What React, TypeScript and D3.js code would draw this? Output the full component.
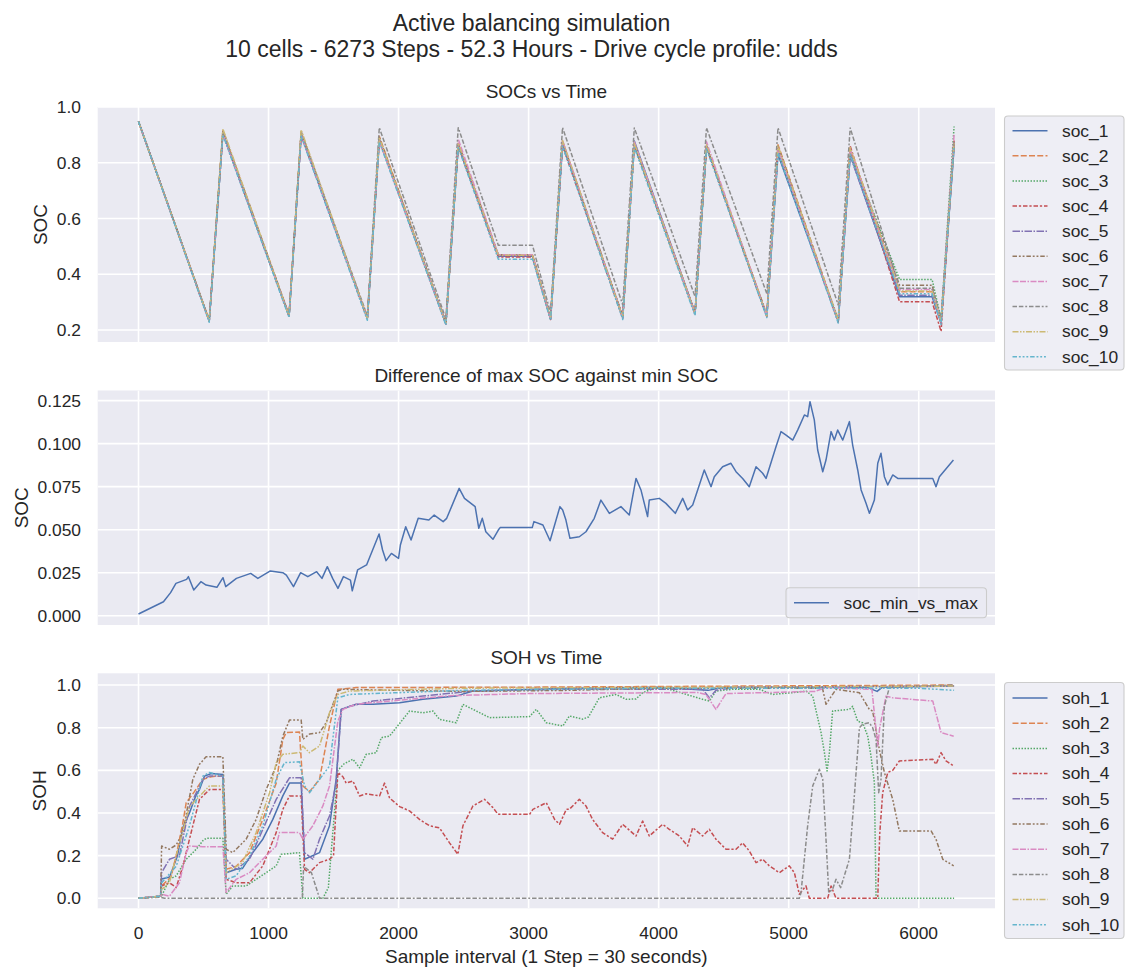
import React from "react";
import * as d3 from "d3";

type P = [number, number];

// ---------- styling palette (seaborn deep) ----------
const COLORS = ["#4C72B0", "#DD8452", "#55A868", "#C44E52", "#8172B3", "#937860", "#DA8BC3", "#8C8C8C", "#CCB974", "#64B5CD"];
const DASHES: number[][] = [
  [], [4, 1.5], [1, 1], [3, 1.25, 1.5, 1.25], [5, 1, 1, 1],
  [3, 1.25, 1.25, 1.25, 1.25, 1.25], [4, 1, 4, 1, 1, 1], [3, 1.25, 3, 1.25, 1.25, 1.25],
  [4, 1, 1, 1, 1, 1], [3, 1.25, 1.25, 1.25, 1.25, 1.25, 1.25, 1.25],
];

// ---------- text / ticks ----------
const SUPTITLE_1 = "Active balancing simulation";
const SUPTITLE_2 = "10 cells - 6273 Steps - 52.3 Hours - Drive cycle profile: udds";
const TITLES = ["SOCs vs Time", "Difference of max SOC against min SOC", "SOH vs Time"];
const YLABELS = ["SOC", "SOC", "SOH"];
const XLABEL = "Sample interval (1 Step = 30 seconds)";
const SOC_LABELS = ["soc_1", "soc_2", "soc_3", "soc_4", "soc_5", "soc_6", "soc_7", "soc_8", "soc_9", "soc_10"];
const SOH_LABELS = ["soh_1", "soh_2", "soh_3", "soh_4", "soh_5", "soh_6", "soh_7", "soh_8", "soh_9", "soh_10"];
const DIFF_LABEL = "soc_min_vs_max";

const X_TICKS = [0, 1000, 2000, 3000, 4000, 5000, 6000];
const SOC_TICKS = [0.2, 0.4, 0.6, 0.8, 1.0];
const DIFF_TICKS = [0, 0.025, 0.05, 0.075, 0.1, 0.125];
const SOH_TICKS = [0, 0.2, 0.4, 0.6, 0.8, 1.0];

const X_DOMAIN = [-313.65, 6586.65];
const SOC_DOMAIN = [0.157, 1.0];
const DIFF_DOMAIN = [-0.0054, 0.1309];
const SOH_DOMAIN = [-0.047, 1.055];

// ---------- SOC data (values at shared breakpoint steps) ----------
const SOC_STEPS = [0, 544, 649, 1158, 1251, 1760, 1852, 2364, 2459, 2767, 3030, 3169, 3261, 3724, 3813, 4280, 4368, 4832, 4918, 5381, 5473, 5853, 6103, 6172, 6272];
const SOC_1 = [0.948, 0.232, 0.905, 0.25, 0.9, 0.243, 0.885, 0.222, 0.865, 0.465, 0.465, 0.24, 0.87, 0.245, 0.878, 0.262, 0.86, 0.25, 0.83, 0.232, 0.83, 0.319, 0.319, 0.225, 0.855];
const SOC_2 = [0.948, 0.235, 0.915, 0.255, 0.91, 0.245, 0.895, 0.225, 0.87, 0.47, 0.47, 0.242, 0.875, 0.248, 0.87, 0.262, 0.86, 0.255, 0.865, 0.235, 0.85, 0.337, 0.337, 0.228, 0.87];
const SOC_3 = [0.948, 0.233, 0.905, 0.25, 0.905, 0.24, 0.88, 0.223, 0.86, 0.468, 0.468, 0.24, 0.865, 0.245, 0.86, 0.258, 0.855, 0.25, 0.84, 0.24, 0.835, 0.381, 0.381, 0.24, 0.93];
const SOC_4 = [0.948, 0.232, 0.905, 0.25, 0.9, 0.24, 0.88, 0.222, 0.86, 0.462, 0.462, 0.238, 0.86, 0.242, 0.865, 0.258, 0.855, 0.248, 0.855, 0.228, 0.86, 0.301, 0.301, 0.195, 0.88];
const SOC_5 = [0.948, 0.232, 0.905, 0.25, 0.9, 0.242, 0.885, 0.223, 0.865, 0.466, 0.466, 0.24, 0.87, 0.245, 0.87, 0.26, 0.86, 0.25, 0.85, 0.23, 0.825, 0.325, 0.325, 0.225, 0.86];
const SOC_6 = [0.948, 0.234, 0.91, 0.252, 0.905, 0.243, 0.89, 0.225, 0.87, 0.47, 0.47, 0.243, 0.875, 0.25, 0.865, 0.263, 0.86, 0.255, 0.86, 0.232, 0.845, 0.361, 0.361, 0.23, 0.88];
const SOC_7 = [0.948, 0.232, 0.905, 0.25, 0.9, 0.242, 0.88, 0.222, 0.885, 0.47, 0.47, 0.24, 0.88, 0.245, 0.875, 0.26, 0.875, 0.25, 0.85, 0.233, 0.85, 0.345, 0.345, 0.23, 0.9];
const SOC_8 = [0.948, 0.234, 0.915, 0.252, 0.912, 0.25, 0.926, 0.24, 0.926, 0.504, 0.504, 0.26, 0.926, 0.29, 0.925, 0.32, 0.925, 0.33, 0.925, 0.29, 0.925, 0.35, 0.35, 0.24, 0.88];
const SOC_9 = [0.948, 0.233, 0.922, 0.25, 0.918, 0.242, 0.89, 0.223, 0.87, 0.468, 0.468, 0.242, 0.88, 0.245, 0.87, 0.26, 0.865, 0.25, 0.86, 0.235, 0.855, 0.34, 0.34, 0.23, 0.87];
const SOC_10 = [0.948, 0.228, 0.9, 0.245, 0.895, 0.235, 0.875, 0.218, 0.855, 0.454, 0.454, 0.235, 0.86, 0.238, 0.855, 0.252, 0.85, 0.245, 0.835, 0.225, 0.83, 0.33, 0.33, 0.22, 0.86];
const SOC_VALUES = [SOC_1, SOC_2, SOC_3, SOC_4, SOC_5, SOC_6, SOC_7, SOC_8, SOC_9, SOC_10];

// ---------- max-min SOC difference ----------
const DIFF: P[] = [[0, 0.001], [192, 0.0081], [247, 0.0134], [288, 0.0188], [370, 0.0211], [384, 0.0227], [425, 0.0149], [480, 0.0198], [520, 0.0178], [603, 0.0165], [650, 0.0221], [671, 0.0169], [753, 0.0217], [863, 0.0246], [918, 0.0217], [1014, 0.026], [1110, 0.025], [1137, 0.0236], [1192, 0.0169], [1247, 0.025], [1302, 0.0227], [1370, 0.0256], [1411, 0.0217], [1452, 0.0285], [1493, 0.0217], [1534, 0.0159], [1576, 0.0227], [1630, 0.0207], [1644, 0.0145], [1685, 0.0266], [1754, 0.0295], [1850, 0.0475], [1877, 0.0382], [1904, 0.032], [1945, 0.0362], [2000, 0.0333], [2014, 0.0411], [2055, 0.0517], [2096, 0.044], [2151, 0.0566], [2233, 0.0556], [2274, 0.0585], [2343, 0.0547], [2370, 0.0566], [2466, 0.074], [2507, 0.0682], [2589, 0.0634], [2617, 0.0508], [2644, 0.0566], [2671, 0.0488], [2726, 0.0444], [2767, 0.0498], [2781, 0.0512], [3028, 0.0512], [3041, 0.0547], [3110, 0.0527], [3165, 0.0436], [3241, 0.0634], [3262, 0.0614], [3287, 0.0556], [3318, 0.045], [3390, 0.0459], [3441, 0.0488], [3505, 0.0566], [3556, 0.0672], [3621, 0.0595], [3710, 0.0634], [3774, 0.0585], [3826, 0.0798], [3864, 0.0731], [3915, 0.0576], [3928, 0.0672], [4005, 0.0682], [4056, 0.0653], [4128, 0.0595], [4185, 0.0682], [4223, 0.0614], [4262, 0.0643], [4351, 0.0847], [4403, 0.075], [4428, 0.0808], [4492, 0.0866], [4556, 0.0886], [4595, 0.0837], [4646, 0.0798], [4697, 0.075], [4749, 0.0866], [4800, 0.0828], [4826, 0.0798], [4903, 0.0983], [4941, 0.107], [4980, 0.105], [5031, 0.1021], [5069, 0.1079], [5121, 0.1167], [5146, 0.1157], [5164, 0.1244], [5197, 0.1138], [5223, 0.0963], [5262, 0.0837], [5287, 0.0905], [5326, 0.107], [5351, 0.1021], [5377, 0.1079], [5416, 0.1021], [5467, 0.1128], [5492, 0.0992], [5531, 0.0847], [5557, 0.0731], [5595, 0.0653], [5621, 0.0595], [5659, 0.0672], [5685, 0.0886], [5710, 0.0944], [5736, 0.0808], [5762, 0.076], [5800, 0.0818], [5839, 0.0798], [5852, 0.0798], [6108, 0.0798], [6133, 0.075], [6159, 0.0808], [6267, 0.0905]];

// ---------- SOH data ----------
const SOH_1: P[] = [[0, 0], [170, 0.01], [178, 0.09], [240, 0.1], [270, 0.15], [300, 0.2], [340, 0.33], [392, 0.4], [440, 0.48], [469, 0.51], [508, 0.573], [560, 0.585], [649, 0.581], [674, 0.12], [751, 0.136], [800, 0.14], [879, 0.214], [956, 0.277], [1033, 0.37], [1110, 0.48], [1161, 0.54], [1251, 0.54], [1277, 0.183], [1392, 0.214], [1469, 0.34], [1520, 0.558], [1559, 0.886], [1623, 0.9], [1674, 0.91], [1803, 0.91], [2008, 0.917], [2187, 0.933], [2443, 0.948], [2572, 0.972], [3315, 0.985], [4000, 0.99], [4380, 0.975], [4500, 0.99], [5600, 0.99], [5680, 0.97], [5720, 0.99], [6272, 0.995]];
const SOH_2: P[] = [[0, 0], [170, 0.01], [178, 0.058], [250, 0.1], [290, 0.2], [340, 0.35], [367, 0.448], [430, 0.5], [495, 0.558], [560, 0.57], [649, 0.575], [674, 0.136], [751, 0.15], [854, 0.214], [956, 0.37], [1059, 0.54], [1110, 0.745], [1136, 0.777], [1238, 0.78], [1264, 0.527], [1315, 0.5], [1392, 0.558], [1469, 0.808], [1533, 0.98], [1674, 0.988], [3000, 0.99], [6272, 1.0]];
const SOH_3: P[] = [[0, 0], [170, 0.01], [178, 0.01], [238, 0.089], [290, 0.105], [367, 0.183], [444, 0.23], [495, 0.27], [520, 0.281], [649, 0.281], [674, 0.019], [725, 0.058], [828, 0.058], [905, 0.089], [982, 0.12], [1059, 0.152], [1097, 0.206], [1238, 0.214], [1264, 0], [1418, 0], [1460, 0.05], [1533, 0.6], [1580, 0.63], [1649, 0.652], [1700, 0.612], [1751, 0.675], [1828, 0.683], [1867, 0.753], [1931, 0.761], [1982, 0.8], [2033, 0.839], [2084, 0.878], [2187, 0.87], [2264, 0.878], [2315, 0.839], [2443, 0.823], [2495, 0.909], [2572, 0.886], [2700, 0.847], [3008, 0.852], [3059, 0.886], [3136, 0.823], [3264, 0.808], [3313, 0.855], [3415, 0.84], [3460, 0.85], [3544, 0.94], [3672, 0.956], [3749, 0.933], [3826, 0.935], [3877, 0.964], [3979, 0.988], [4082, 0.98], [4338, 0.933], [4390, 0.925], [4441, 0.972], [4569, 0.98], [4774, 0.98], [4877, 0.956], [5031, 0.964], [5133, 0.972], [5185, 0.948], [5249, 0.777], [5275, 0.683], [5295, 0.597], [5313, 0.683], [5338, 0.878], [5467, 0.886], [5492, 0.9], [5531, 0.83], [5569, 0.823], [5608, 0.76], [5633, 0.667], [5659, 0.542], [5672, 0], [6272, 0]];
const SOH_4: P[] = [[0, 0], [170, 0.01], [178, 0.058], [238, 0.073], [290, 0.05], [341, 0.15], [392, 0.277], [469, 0.464], [546, 0.51], [649, 0.51], [674, 0.089], [751, 0.073], [854, 0.073], [956, 0.152], [1059, 0.308], [1110, 0.417], [1161, 0.48], [1251, 0.48], [1277, 0.136], [1315, 0.12], [1392, 0.167], [1469, 0.183], [1500, 0.2], [1533, 0.59], [1572, 0.57], [1597, 0.54], [1649, 0.55], [1700, 0.48], [1751, 0.49], [1854, 0.48], [1892, 0.54], [1931, 0.47], [2008, 0.43], [2084, 0.41], [2161, 0.37], [2238, 0.34], [2315, 0.33], [2392, 0.26], [2456, 0.206], [2495, 0.34], [2572, 0.433], [2661, 0.464], [2726, 0.425], [2764, 0.394], [3008, 0.394], [3033, 0.417], [3136, 0.448], [3200, 0.37], [3238, 0.347], [3290, 0.417], [3313, 0.417], [3390, 0.464], [3441, 0.433], [3492, 0.37], [3569, 0.308], [3646, 0.277], [3723, 0.347], [3826, 0.292], [3877, 0.3625], [3928, 0.292], [4031, 0.347], [4082, 0.323], [4159, 0.292], [4223, 0.245], [4262, 0.331], [4338, 0.292], [4390, 0.323], [4441, 0.277], [4518, 0.23], [4595, 0.23], [4646, 0.26], [4697, 0.222], [4749, 0.167], [4800, 0.183], [4851, 0.152], [4928, 0.12], [5005, 0.152], [5044, 0.12], [5082, 0.019], [5133, 0.058], [5159, 0], [5300, 0], [5326, 0.058], [5364, 0], [5685, 0], [5700, 0.3], [5723, 0.495], [5762, 0.59], [5800, 0.6], [5851, 0.644], [6108, 0.652], [6133, 0.628], [6172, 0.683], [6210, 0.644], [6269, 0.62]];
const SOH_5: P[] = [[0, 0], [170, 0.01], [178, 0.12], [238, 0.183], [315, 0.2], [392, 0.43], [495, 0.558], [546, 0.573], [649, 0.573], [674, 0.183], [751, 0.136], [854, 0.183], [956, 0.323], [1059, 0.464], [1136, 0.54], [1161, 0.565], [1251, 0.565], [1277, 0.214], [1341, 0.183], [1392, 0.277], [1469, 0.386], [1520, 0.54], [1559, 0.886], [1623, 0.9], [1803, 0.925], [2187, 0.948], [2572, 0.972], [3300, 0.98], [4338, 0.98], [4390, 0.94], [4441, 0.975], [4600, 0.99], [6272, 0.995]];
const SOH_6: P[] = [[0, 0], [170, 0.01], [178, 0.245], [238, 0.23], [290, 0.25], [341, 0.308], [418, 0.558], [469, 0.628], [520, 0.664], [649, 0.664], [674, 0.23], [725, 0.214], [828, 0.277], [905, 0.37], [982, 0.51], [1059, 0.62], [1110, 0.76], [1161, 0.836], [1251, 0.836], [1264, 0.745], [1315, 0.77], [1392, 0.777], [1443, 0.823], [1533, 0.972], [1572, 0.98], [2000, 0.975], [2500, 0.97], [3300, 0.975], [4000, 0.985], [5260, 0.985], [5287, 0.91], [5364, 0.98], [5544, 0.964], [5620, 0.886], [5646, 0.878], [5697, 0.698], [5736, 0.59], [5800, 0.464], [5851, 0.316], [6095, 0.316], [6133, 0.277], [6185, 0.183], [6269, 0.152]];
const SOH_7: P[] = [[0, 0], [170, 0.01], [178, 0.019], [238, 0.01], [315, 0.073], [367, 0.214], [392, 0.245], [495, 0.242], [649, 0.242], [674, 0.027], [751, 0.089], [854, 0.12], [956, 0.183], [1059, 0.245], [1084, 0.308], [1238, 0.308], [1264, 0.277], [1341, 0.34], [1418, 0.433], [1469, 0.527], [1533, 0.83], [1572, 0.886], [1674, 0.91], [2078, 0.933], [2400, 0.95], [3000, 0.96], [4300, 0.965], [4364, 0.955], [4441, 0.886], [4518, 0.96], [5200, 0.97], [5287, 0.988], [5640, 0.98], [5685, 0.714], [5700, 0.8], [5749, 0.948], [5800, 0.94], [6108, 0.925], [6172, 0.777], [6269, 0.76]];
const SOH_8: P[] = [[0, 0], [170, 0.005], [200, 0], [1260, 0], [1270, 0.15], [1330, 0.12], [1392, 0], [5082, 0], [5095, 0.027], [5146, 0.34], [5185, 0.527], [5236, 0.605], [5262, 0.558], [5287, 0.277], [5308, 0.027], [5338, 0.042], [5364, 0.089], [5400, 0.05], [5467, 0.183], [5505, 0.48], [5544, 0.8], [5569, 0.816], [5620, 0.823], [5646, 0.8], [5672, 0.745], [5692, 0.495], [5710, 0.558], [5736, 0.9], [5774, 0.988], [6272, 1.0]];
const SOH_9: P[] = [[0, 0], [170, 0.01], [178, 0.042], [238, 0.073], [290, 0.2], [392, 0.43], [495, 0.495], [546, 0.527], [649, 0.527], [674, 0.12], [800, 0.167], [905, 0.308], [1008, 0.495], [1059, 0.636], [1110, 0.675], [1238, 0.683], [1264, 0.714], [1315, 0.683], [1392, 0.714], [1469, 0.87], [1533, 0.956], [1623, 0.972], [2500, 0.985], [6272, 0.995]];
const SOH_10: P[] = [[0, 0], [170, 0.01], [178, 0.073], [290, 0.15], [392, 0.34], [495, 0.573], [546, 0.59], [649, 0.573], [674, 0.089], [751, 0.105], [854, 0.198], [956, 0.34], [1059, 0.558], [1123, 0.636], [1238, 0.64], [1277, 0.527], [1315, 0.495], [1392, 0.558], [1469, 0.62], [1533, 0.94], [1623, 0.956], [2500, 0.975], [4000, 0.985], [6000, 0.985], [6272, 0.975]];
const SOH_SERIES = [SOH_1, SOH_2, SOH_3, SOH_4, SOH_5, SOH_6, SOH_7, SOH_8, SOH_9, SOH_10];

// ---------- layout ----------
const W = 1125;
const H = 968;
const AX_L = 97.7;
const AX_R = 995;
const FONT = "'Liberation Sans', Arial, Helvetica, sans-serif";
const INK = "#262626";
const BG = "#EAEAF2";
const LW = 1.5;
const DASH_UNIT = 1.5;

const dashStr = (i: number) => (DASHES[i].length ? DASHES[i].map((d) => d * DASH_UNIT).join(" ") : undefined);

type Item = { label: string; color: string; dash: number };

function Legend({ x, y, w, h, items, first, pitch }: { x: number; y: number; w: number; h: number; items: Item[]; first: number; pitch: number }) {
  return (
    <g>
      <rect x={x} y={y} width={w} height={h} rx={3.5} ry={3.5} fill={BG} fillOpacity={0.8} stroke="#CCCCCC" strokeWidth={1.1} />
      {items.map((it, i) => {
        const cy = y + first + i * pitch;
        return (
          <g key={it.label}>
            <line x1={x + 8} x2={x + 43} y1={cy} y2={cy} stroke={it.color} strokeWidth={LW} strokeDasharray={dashStr(it.dash)} />
            <text x={x + 57.5} y={cy + 5.8} fontSize={17.4} fill={INK}>{it.label}</text>
          </g>
        );
      })}
    </g>
  );
}

export default function App() {
  const x = d3.scaleLinear().domain(X_DOMAIN).range([AX_L, AX_R]);

  const panels = [
    { top: 107, bottom: 342, domain: SOC_DOMAIN, ticks: SOC_TICKS, fmt: d3.format(".1f"), ylabX: 46.8 },
    { top: 390.5, bottom: 625, domain: DIFF_DOMAIN, ticks: DIFF_TICKS, fmt: d3.format(".3f"), ylabX: 28.3 },
    { top: 673.3, bottom: 908.3, domain: SOH_DOMAIN, ticks: SOH_TICKS, fmt: d3.format(".1f"), ylabX: 46.3 },
  ];
  const ys = panels.map((p) => d3.scaleLinear().domain(p.domain).range([p.bottom, p.top]));

  const socSeries: P[][] = SOC_VALUES.map((vals) => SOC_STEPS.map((s, i) => [s, vals[i]] as P));

  const lineFor = (yi: number) =>
    d3.line<P>().x((d) => x(d[0])).y((d) => ys[yi](d[1]));

  const seriesByPanel: { data: P[]; color: string; dash: number }[][] = [
    socSeries.map((d, i) => ({ data: d, color: COLORS[i], dash: i })),
    [{ data: DIFF, color: COLORS[0], dash: 0 }],
    SOH_SERIES.map((d, i) => ({ data: d, color: COLORS[i], dash: i })),
  ];

  return (
    <svg width={W} height={H} style={{ position: "absolute", left: 0, top: 0, background: "#fff" }} fontFamily={FONT}>
      <defs>
        {panels.map((p, i) => (
          <clipPath id={`clip${i}`} key={i}>
            <rect x={AX_L} y={p.top} width={AX_R - AX_L} height={p.bottom - p.top} />
          </clipPath>
        ))}
      </defs>
      <rect x={0} y={0} width={W} height={H} fill="#fff" />

      <text x={531.5} y={30.5} textAnchor="middle" fontSize={23} fill={INK}>{SUPTITLE_1}</text>
      <text x={531.5} y={56.5} textAnchor="middle" fontSize={23} fill={INK}>{SUPTITLE_2}</text>

      {panels.map((p, pi) => {
        const y = ys[pi];
        const line = lineFor(pi);
        return (
          <g key={pi}>
            <rect x={AX_L} y={p.top} width={AX_R - AX_L} height={p.bottom - p.top} fill={BG} />
            <g clipPath={`url(#clip${pi})`}>
              {X_TICKS.map((t) => (
                <line key={t} x1={x(t)} x2={x(t)} y1={p.top} y2={p.bottom} stroke="#fff" strokeWidth={1.6} />
              ))}
              {p.ticks.map((t) => (
                <line key={t} x1={AX_L} x2={AX_R} y1={y(t)} y2={y(t)} stroke="#fff" strokeWidth={1.6} />
              ))}
              {seriesByPanel[pi].map((s, si) => (
                <path key={si} d={line(s.data) || ""} fill="none" stroke={s.color} strokeWidth={LW}
                  strokeDasharray={dashStr(s.dash)} strokeLinejoin="round" />
              ))}
            </g>
            {p.ticks.map((t) => (
              <text key={t} x={81} y={y(t)} dy="0.35em" textAnchor="end" fontSize={17.4} fill={INK}>{p.fmt(t)}</text>
            ))}
            <text x={(AX_L + AX_R) / 2} y={p.top - 9} textAnchor="middle" fontSize={19} fill={INK}>{TITLES[pi]}</text>
            <text transform={`translate(${p.ylabX}, ${(p.top + p.bottom) / 2}) rotate(-90)`} textAnchor="middle" fontSize={19} fill={INK}>{YLABELS[pi]}</text>
          </g>
        );
      })}

      {X_TICKS.map((t) => (
        <text key={t} x={x(t)} y={939.3} textAnchor="middle" fontSize={17.4} fill={INK}>{String(t)}</text>
      ))}
      <text x={(AX_L + AX_R) / 2} y={963} textAnchor="middle" fontSize={19} fill={INK}>{XLABEL}</text>

      <Legend x={1004.5} y={116} w={119.5} h={254} first={14.7} pitch={25.12}
        items={SOC_LABELS.map((l, i) => ({ label: l, color: COLORS[i], dash: i }))} />
      <Legend x={1004.5} y={682.5} w={119.5} h={256} first={15.5} pitch={25.2}
        items={SOH_LABELS.map((l, i) => ({ label: l, color: COLORS[i], dash: i }))} />
      <Legend x={786} y={587.7} w={200.5} h={30} first={15} pitch={25}
        items={[{ label: DIFF_LABEL, color: COLORS[0], dash: 0 }]} />
    </svg>
  );
}
